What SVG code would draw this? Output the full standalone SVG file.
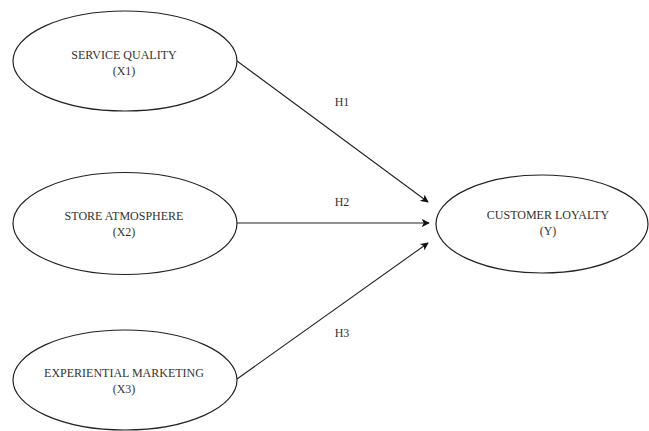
<svg xmlns="http://www.w3.org/2000/svg" width="649" height="431" viewBox="0 0 649 431">
<style>
.node ellipse{fill:#fff;stroke:#222;stroke-width:1.2}
text{font-family:"Liberation Serif","Times New Roman",serif;font-size:12px;fill:#333;text-anchor:middle}
.edge{stroke:#222;stroke-width:1.1;fill:none;marker-end:url(#arr)}
</style>
<defs>
<marker id="arr" viewBox="0 0 10 10" refX="9" refY="5" markerWidth="8" markerHeight="8" markerUnits="userSpaceOnUse" orient="auto">
<path d="M0,0 L10,5 L0,10 L2.5,5 Z" fill="#111"/>
</marker>
</defs>
<rect width="649" height="431" fill="#fff"/>
<g id="connectors">
<line class="edge" x1="237" y1="61" x2="428" y2="202"/>
<line class="edge" x1="237" y1="223" x2="429" y2="223"/>
<line class="edge" x1="237" y1="379" x2="428" y2="243"/>
<text x="342" y="106">H1</text>
<text x="342" y="206">H2</text>
<text x="342" y="337">H3</text>
</g>
<g id="x1" class="node">
<ellipse cx="125" cy="61" rx="112" ry="50"/>
<text x="124" y="59">SERVICE QUALITY</text>
<text x="124" y="75">(X1)</text>
</g>
<g id="x2" class="node">
<ellipse cx="125" cy="223.5" rx="112" ry="51"/>
<text x="124" y="220">STORE ATMOSPHERE</text>
<text x="124" y="236">(X2)</text>
</g>
<g id="x3" class="node">
<ellipse cx="125" cy="380" rx="112" ry="50"/>
<text x="124" y="377">EXPERIENTIAL MARKETING</text>
<text x="124" y="393">(X3)</text>
</g>
<g id="y" class="node">
<ellipse cx="542" cy="224" rx="106" ry="49"/>
<text x="548" y="219">CUSTOMER LOYALTY</text>
<text x="548" y="235">(Y)</text>
</g>
</svg>
